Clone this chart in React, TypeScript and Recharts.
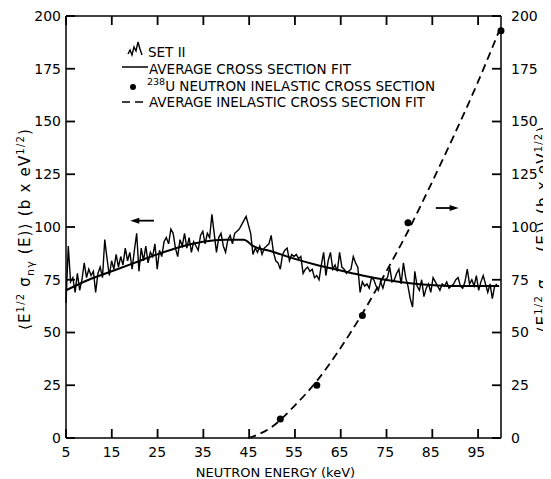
import { ComposedChart, Line, Scatter, XAxis, YAxis, Label, ReferenceLine } from "recharts";

const FONT = "'DejaVu Sans', sans-serif";

const energyTicks = [5, 15, 25, 35, 45, 55, 65, 75, 85, 95];
const crossTicks = [0, 25, 50, 75, 100, 125, 150, 175, 200];
const energyDomain = [5, 100];
const crossDomain = [0, 200];

// SET II capture data, read every 0.5 keV starting at 5 keV
const set2Start = 5;
const set2Step = 0.5;
const set2Values = [
  64, 91, 74, 76, 69, 78, 70, 75, 83, 76, 80, 77, 79, 69, 78, 81, 76, 94, 85, 77,
  84, 80, 87, 81, 86, 82, 90, 84, 88, 80, 89, 97, 79, 90, 84, 91, 83, 88, 86, 92,
  80, 89, 86, 93, 95, 92, 99, 97, 90, 86, 94, 91, 97, 90, 95, 88, 93, 91, 89, 96,
  98, 92, 97, 95, 106, 97, 88, 95, 97, 91, 88, 94, 96, 92, 97, 98, 99, 101, 103, 105,
  101, 97, 87, 90, 88, 91, 87, 90, 91, 92, 96, 88, 84, 83, 80, 87, 89, 90, 84, 87,
  86, 87, 85, 86, 78, 80, 81, 79, 80, 76, 77, 75, 82, 88, 77, 84, 88, 80, 82, 79,
  88, 81, 80, 78, 79, 80, 86, 83, 81, 69, 74, 72, 73, 71, 76, 75, 72, 70, 74, 71,
  75, 76, 81, 74, 75, 78, 80, 73, 83, 76, 72, 66, 62, 79, 72, 70, 75, 67, 71, 73,
  69, 76, 74, 72, 70, 73, 72, 74, 71, 72, 73, 75, 76, 72, 71, 74, 80, 73, 75, 72,
  77, 70, 74, 77, 73, 69, 73, 66, 72, 73,
];

// average capture cross section fit
const captureFitEnergy = [5, 10, 15, 20, 25, 30, 35, 40, 44, 46, 50, 55, 60, 65, 70, 75, 80, 85, 90, 95, 100];
const captureFitValue = [70, 75, 79, 83, 87, 90.5, 93, 94, 94, 91, 88.5, 85, 82, 79.5, 77, 75, 73.5, 72.5, 72, 72, 72];

// 238U inelastic points (right axis)
const inelasticEnergy = [52, 60, 70, 80, 100.4];
const inelasticValue = [9, 25, 58, 102, 193];

// average inelastic cross section fit (right axis)
const inelasticFitEnergy = [45, 50, 55, 60, 65, 70, 75, 80, 85, 90, 95, 100];
const inelasticFitValue = [0, 5, 15, 27, 42, 59, 78, 98, 120, 143, 167, 193];

const set2Data = set2Values.map((value, i) => ({ energy: set2Start + i * set2Step, value }));
const captureFitData = captureFitEnergy.map((energy, i) => ({ energy, value: captureFitValue[i] }));
const inelasticData = inelasticEnergy.map((energy, i) => ({ energy, value: inelasticValue[i] }));
const inelasticFitData = inelasticFitEnergy.map((energy, i) => ({ energy, value: inelasticFitValue[i] }));

// chart box: the plot area that the axis sizes below leave
const CHART_W = 543;
const CHART_H = 471;
const LEFT_W = 58;
const RIGHT_W = 50;
const TOP_H = 8;
const BOTTOM_H = 41;
const PLOT_L = LEFT_W;
const PLOT_R = CHART_W - RIGHT_W;
const PLOT_T = TOP_H;
const PLOT_B = CHART_H - BOTTOM_H;
const TICK_PX = 9;

const xPx = (e: number) => PLOT_L + ((e - energyDomain[0]) / (energyDomain[1] - energyDomain[0])) * (PLOT_R - PLOT_L);
const yPx = (v: number) => PLOT_B - ((v - crossDomain[0]) / (crossDomain[1] - crossDomain[0])) * (PLOT_B - PLOT_T);

function Arrow(props: any) {
  const { x1, y1, x2, y2 } = props;
  const dir = x2 > x1 ? 1 : -1;
  return (
    <g>
      <line x1={x1} y1={y1} x2={x2 - dir * 6} y2={y2} stroke="#000" strokeWidth={1.8} />
      <polygon points={`${x2},${y2} ${x2 - dir * 9},${y2 - 3} ${x2 - dir * 9},${y2 + 3}`} fill="#000" />
    </g>
  );
}

function YTitle({ viewBox, side }: any) {
  const vb = viewBox ?? { x: 0, y: 8, width: 58, height: 422 };
  const cx = side === "left" ? vb.x + 22 : vb.x + vb.width - 3;
  const cy = vb.y + vb.height / 2 + 2;
  const sub = side === "left" ? "nγ" : "nn'";
  return (
    <text
      x={cx}
      y={cy}
      transform={`rotate(-90 ${cx} ${cy})`}
      textAnchor="middle"
      fontFamily={FONT}
      fontSize={15}
      letterSpacing={1.2}
      fill="#000"
    >
      ⟨E
      <tspan dy={-6} fontSize={10}>1/2</tspan>
      <tspan dy={6}> σ</tspan>
      <tspan dy={4} fontSize={11}>{sub}</tspan>
      <tspan dy={-4}> (E)⟩  (b x eV</tspan>
      <tspan dy={-6} fontSize={10}>1/2</tspan>
      <tspan dy={6}>)</tspan>
    </text>
  );
}

function XTitle({ viewBox }: any) {
  const vb = viewBox ?? { x: 58, y: 430, width: 435, height: 41 };
  return (
    <text x={vb.x + vb.width / 2 - 8} y={vb.y + 39} textAnchor="middle" fontFamily={FONT} fontSize={13} fill="#000">
      NEUTRON ENERGY (keV)
    </text>
  );
}

// legend text plus the inward tick marks on all four sides
function Overlay() {
  const text = { fontFamily: FONT, fontSize: 13.5, fill: "#000" } as const;
  const tl = { stroke: "#000", strokeWidth: 1.8 };
  return (
    <svg width={CHART_W} height={CHART_H} style={{ position: "absolute", left: 0, top: 0, pointerEvents: "none" }}>
      {energyTicks.map((e) => (
        <g key={`x${e}`}>
          <line x1={xPx(e)} y1={PLOT_B} x2={xPx(e)} y2={PLOT_B - TICK_PX} {...tl} />
          <line x1={xPx(e)} y1={PLOT_T} x2={xPx(e)} y2={PLOT_T + TICK_PX} {...tl} />
        </g>
      ))}
      {crossTicks.map((v) => (
        <g key={`y${v}`}>
          <line x1={PLOT_L} y1={yPx(v)} x2={PLOT_L + TICK_PX} y2={yPx(v)} {...tl} />
          <line x1={PLOT_R} y1={yPx(v)} x2={PLOT_R - TICK_PX} y2={yPx(v)} {...tl} />
        </g>
      ))}
      <polyline
        points="120,46 122,42 124,47 126,39 128,43 130,34 132,41 134,47"
        fill="none"
        stroke="#000"
        strokeWidth={1.4}
      />
      <text x={140} y={49} {...text}>SET II</text>
      <line x1={114} y1={59} x2={140} y2={59} stroke="#000" strokeWidth={1.5} />
      <text x={141} y={66} {...text}>AVERAGE CROSS SECTION FIT</text>
      <circle cx={125} cy={79} r={3} fill="#000" />
      <text x={139} y={83} {...text}>
        <tspan dy={-6} fontSize={9.5}>238</tspan>
        <tspan dy={6}>U NEUTRON INELASTIC CROSS SECTION</tspan>
      </text>
      <line x1={114} y1={94} x2={140} y2={94} stroke="#000" strokeWidth={1.5} strokeDasharray="8 5" />
      <text x={141} y={99} {...text}>AVERAGE INELASTIC CROSS SECTION FIT</text>
    </svg>
  );
}

export default function App() {
  const axisLine = { stroke: "#000", strokeWidth: 1.5 };
  const tick = { fontFamily: FONT, fontSize: 14, fill: "#000" };
  return (
    <div style={{ position: "relative", width: CHART_W, height: CHART_H, background: "#fff" }}>
      <ComposedChart width={CHART_W} height={CHART_H} margin={{ top: 0, right: 0, bottom: 0, left: 0 }}>
        <XAxis
          xAxisId="bottom"
          dataKey="energy"
          type="number"
          domain={energyDomain}
          ticks={energyTicks}
          height={BOTTOM_H}
          tick={tick}
          tickSize={0}
          tickMargin={9}
          tickLine={false}
          axisLine={axisLine}
        >
          <Label content={<XTitle />} />
        </XAxis>
        <XAxis
          xAxisId="top"
          orientation="top"
          dataKey="energy"
          type="number"
          domain={energyDomain}
          ticks={energyTicks}
          height={TOP_H}
          tick={false}
          tickLine={false}
          axisLine={axisLine}
        />
        <YAxis
          yAxisId="left"
          type="number"
          domain={crossDomain}
          ticks={crossTicks}
          width={LEFT_W}
          tick={tick}
          tickSize={0}
          tickMargin={5}
          tickLine={false}
          axisLine={axisLine}
        >
          <Label content={<YTitle side="left" />} />
        </YAxis>
        <YAxis
          yAxisId="right"
          orientation="right"
          type="number"
          domain={crossDomain}
          ticks={crossTicks}
          width={RIGHT_W}
          tick={tick}
          tickSize={0}
          tickMargin={10}
          tickLine={false}
          axisLine={axisLine}
        >
          <Label content={<YTitle side="right" />} />
        </YAxis>
        <Line
          xAxisId="bottom"
          yAxisId="left"
          data={set2Data}
          dataKey="value"
          type="linear"
          stroke="#000"
          strokeWidth={1.4}
          dot={false}
          isAnimationActive={false}
        />
        <Line
          xAxisId="bottom"
          yAxisId="left"
          data={captureFitData}
          dataKey="value"
          type="monotone"
          stroke="#000"
          strokeWidth={2}
          dot={false}
          isAnimationActive={false}
        />
        <Line
          xAxisId="bottom"
          yAxisId="right"
          data={inelasticFitData}
          dataKey="value"
          type="monotone"
          stroke="#000"
          strokeWidth={1.8}
          strokeDasharray="8 5"
          dot={false}
          isAnimationActive={false}
        />
        <Scatter
          xAxisId="bottom"
          yAxisId="right"
          data={inelasticData}
          dataKey="value"
          fill="#000"
          isAnimationActive={false}
          shape={(p: any) => <circle cx={p.cx} cy={p.cy} r={3.5} fill="#000" />}
        />
        <ReferenceLine
          xAxisId="bottom"
          yAxisId="left"
          segment={[{ x: 24.3, y: 103 }, { x: 19.1, y: 103 }]}
          shape={(p: any) => <Arrow {...p} />}
        />
        <ReferenceLine
          xAxisId="bottom"
          yAxisId="right"
          segment={[{ x: 86.1, y: 109 }, { x: 91.1, y: 109 }]}
          shape={(p: any) => <Arrow {...p} />}
        />
      </ComposedChart>
      <Overlay />
    </div>
  );
}
